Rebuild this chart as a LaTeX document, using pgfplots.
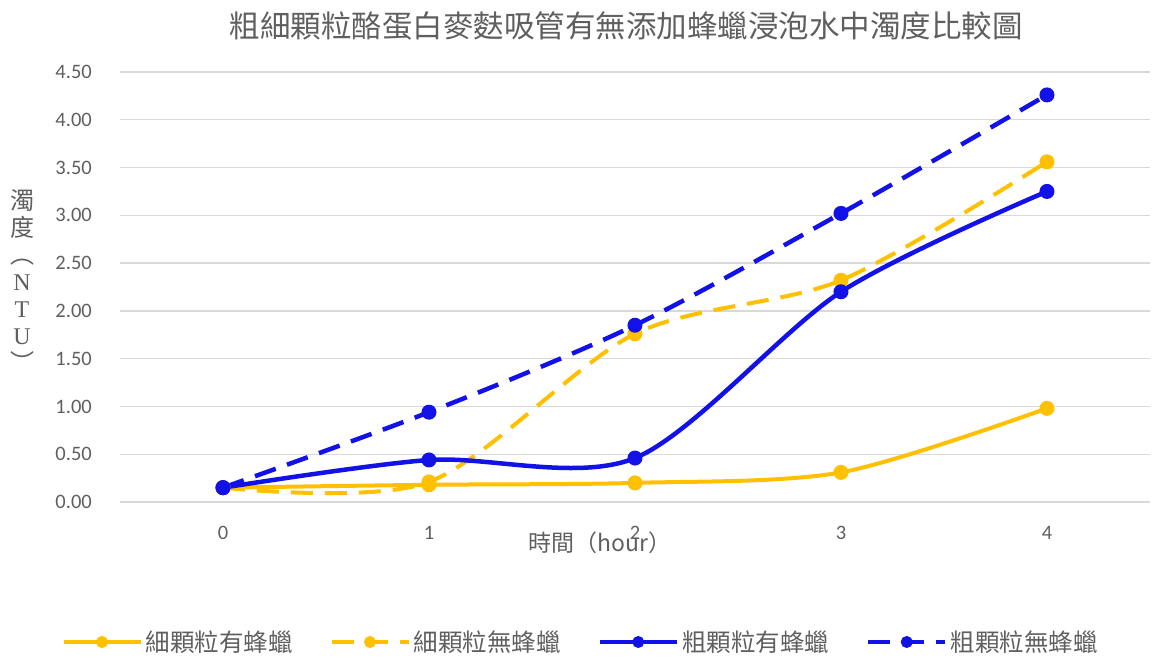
\documentclass[border=0pt]{standalone}
\usepackage{pgfplots}
\pgfplotsset{compat=1.18}
\usepackage{fontspec}
\setmainfont{Carlito}
\newfontfamily\cjk{Noto Sans CJK TC}
\newfontfamily\lserif{Liberation Serif}

\definecolor{cgold}{RGB}{255,192,0}
\definecolor{cblue}{RGB}{18,18,232}
\definecolor{ctext}{RGB}{95,95,95}
\definecolor{cgrid}{RGB}{217,217,217}

\begin{document}
\begin{tikzpicture}[x=1pt,y=1pt]
\path[use as bounding box] (0,0) rectangle (1154,661);

\begin{axis}[
  at={(120pt,159pt)}, anchor=south west,
  scale only axis, width=1030pt, height=430pt,
  xmin=-0.5, xmax=4.5, ymin=0, ymax=4.5,
  xtick={0,1,2,3,4},
  ytick={0,0.5,...,4.5},
  ymajorgrids, grid style={cgrid, line width=1.3pt},
  axis line style={draw=none},
  tick style={draw=none},
  /pgf/number format/assume math mode=true,
  yticklabel style={/pgf/number format/fixed, /pgf/number format/fixed zerofill,
    /pgf/number format/precision=2, font=\fontsize{20.5}{24}\selectfont,
    text=ctext, anchor=east, inner sep=0pt, xshift=-28pt},
  xticklabel style={font=\fontsize{20.5}{24}\selectfont, text=ctext,
    anchor=center, inner sep=0pt, yshift=-31pt},
  legend columns=4,
  legend style={draw=none, fill=none, at={(0.4476,-0.3256)}, anchor=center,
    font=\cjk\fontsize{24.5}{28}\selectfont, text=ctext,
    nodes={inner sep=3pt},
    /tikz/every even column/.append style={column sep=34pt}},
  legend cell align=left,
  legend image code/.code={%
    \draw[#1, mark=none] (0pt,0pt) -- (77pt,0pt);
    \draw[#1, draw=none, mark size=5.5pt] plot coordinates {(38.5pt,0pt)};
  },
  every axis plot/.append style={mark=*, mark size=7pt},
]
% fine granules, with wax
\addplot[cgold, line width=4pt, smooth,
  mark options={solid, fill=cgold, line width=1pt}]
  coordinates {(0,0.15) (1,0.18) (2,0.20) (3,0.31) (4,0.98)};
\addlegendentry{細顆粒有蜂蠟}
% fine granules, no wax
\addplot[cgold, line width=4pt, smooth, dash pattern=on 22pt off 12pt,
  mark options={solid, fill=cgold, line width=1pt}]
  coordinates {(0,0.15) (1,0.21) (2,1.76) (3,2.32) (4,3.56)};
\addlegendentry{細顆粒無蜂蠟}
% coarse granules, with wax
\addplot[cblue, line width=4.5pt, smooth,
  mark options={solid, fill=cblue, line width=1pt}]
  coordinates {(0,0.15) (1,0.44) (2,0.46) (3,2.20) (4,3.25)};
\addlegendentry{粗顆粒有蜂蠟}
% coarse granules, no wax
\addplot[cblue, line width=4.5pt, smooth, dash pattern=on 22pt off 12pt,
  mark options={solid, fill=cblue, line width=1pt}]
  coordinates {(0,0.15) (1,0.94) (2,1.85) (3,3.02) (4,4.26)};
\addlegendentry{粗顆粒無蜂蠟}
\end{axis}

% title
\node[text=ctext, font=\cjk\fontsize{30.5}{36}\selectfont] at (626,635)
  {粗細顆粒酪蛋白麥麩吸管有無添加蜂蠟浸泡水中濁度比較圖};
% axis titles
\node[text=ctext, font=\cjk\fontsize{23}{27}\selectfont] at (600,118)
  {時間（hour）};
\node[text=ctext, align=center, inner sep=0pt,
  font=\cjk\fontsize{24}{27}\selectfont] at (22,380)
  {濁\\度\\︵\\{\lserif N}\\{\lserif T}\\{\lserif U}\\︶};
\end{tikzpicture}
\end{document}
